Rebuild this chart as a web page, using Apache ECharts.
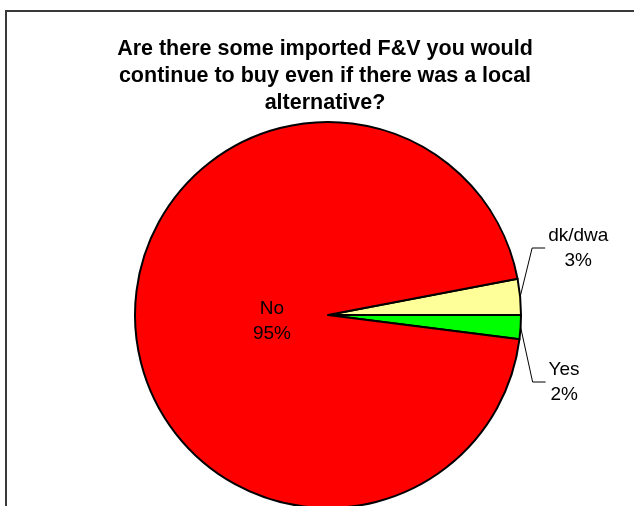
<!DOCTYPE html>
<html>
<head>
<meta charset="utf-8">
<script src="https://cdn.jsdelivr.net/npm/echarts@6/dist/echarts.min.js"></script>
<style>
  html, body { margin: 0; padding: 0; background: #ffffff; }
  #chart { width: 634px; height: 506px; }
</style>
</head>
<body>
<div id="chart"></div>
<script>
// Survey answers (percent of respondents)
const categories = ['dk/dwa', 'Yes', 'No'];
const values = [3, 2, 95];
const sliceColors = ['#FFFF99', '#00FF00', '#FF0000'];
const titleText = 'Are there some imported F&V you would\ncontinue to buy even if there was a local\nalternative?';

const CX = 328, CY = 315, R = 193;
const START_ANGLE = values[0] * 3.6; // first slice sits just above the horizontal

const chart = echarts.init(document.getElementById('chart'), null, { renderer: 'canvas' });

// label placement: outside labels get a kinked leader line to the right of the pie
function placeLabel(params) {
  const name = categories[params.dataIndex];
  const w = params.labelRect.width;
  if (name === 'No') {
    return { x: CX - 56, y: CY + 6, align: 'center', verticalAlign: 'middle' };
  }
  // mid angle of the slice
  let before = 0;
  for (let i = 0; i < params.dataIndex; i++) before += values[i];
  const total = values.reduce((a, b) => a + b, 0);
  const mid = (START_ANGLE - (before + values[params.dataIndex] / 2) / total * 360) * Math.PI / 180;
  const ex = CX + R * Math.cos(mid);
  const ey = CY - R * Math.sin(mid);
  const ly = name === 'dk/dwa' ? 248 : 382;
  const kx = ex + 12;
  const endX = kx + 13;
  return {
    x: endX + 3 + w / 2,
    y: ly,
    align: 'center',
    verticalAlign: 'middle',
    labelLinePoints: [[ex, ey], [kx, ly], [endX, ly]]
  };
}

chart.setOption({
  animation: false,
  backgroundColor: '#ffffff',
  title: {
    text: titleText,
    left: 320,
    top: 31,
    textAlign: 'center',
    textStyle: {
      fontFamily: 'Liberation Sans, Arial, sans-serif',
      fontSize: 21.5,
      fontWeight: 'bold',
      color: '#000000',
      lineHeight: 27
    }
  },
  graphic: [{
    type: 'rect',
    shape: { x: 6, y: 11, width: 700, height: 600 },
    style: { fill: 'none', stroke: '#3a3a3a', lineWidth: 2 },
    silent: true,
    z: 100
  }],
  series: [{
    type: 'pie',
    center: [CX, CY],
    radius: [0, R],
    startAngle: START_ANGLE,
    clockwise: true,
    avoidLabelOverlap: false,
    emphasis: { disabled: true },
    itemStyle: { borderColor: '#000000', borderWidth: 2 },
    label: {
      show: true,
      position: 'outside',
      fontFamily: 'Liberation Sans, Arial, sans-serif',
      fontSize: 19,
      lineHeight: 25,
      color: '#000000',
      formatter: p => p.name + '\n' + p.value + '%'
    },
    labelLine: { show: true, lineStyle: { color: '#000000', width: 1 } },
    labelLayout: placeLabel,
    data: categories.map((c, i) => ({
      name: c,
      value: values[i],
      itemStyle: { color: sliceColors[i] },
      label: c === 'No' ? { position: 'inside' } : {},
      labelLine: c === 'No' ? { show: false } : {}
    }))
  }]
});
</script>
</body>
</html>
